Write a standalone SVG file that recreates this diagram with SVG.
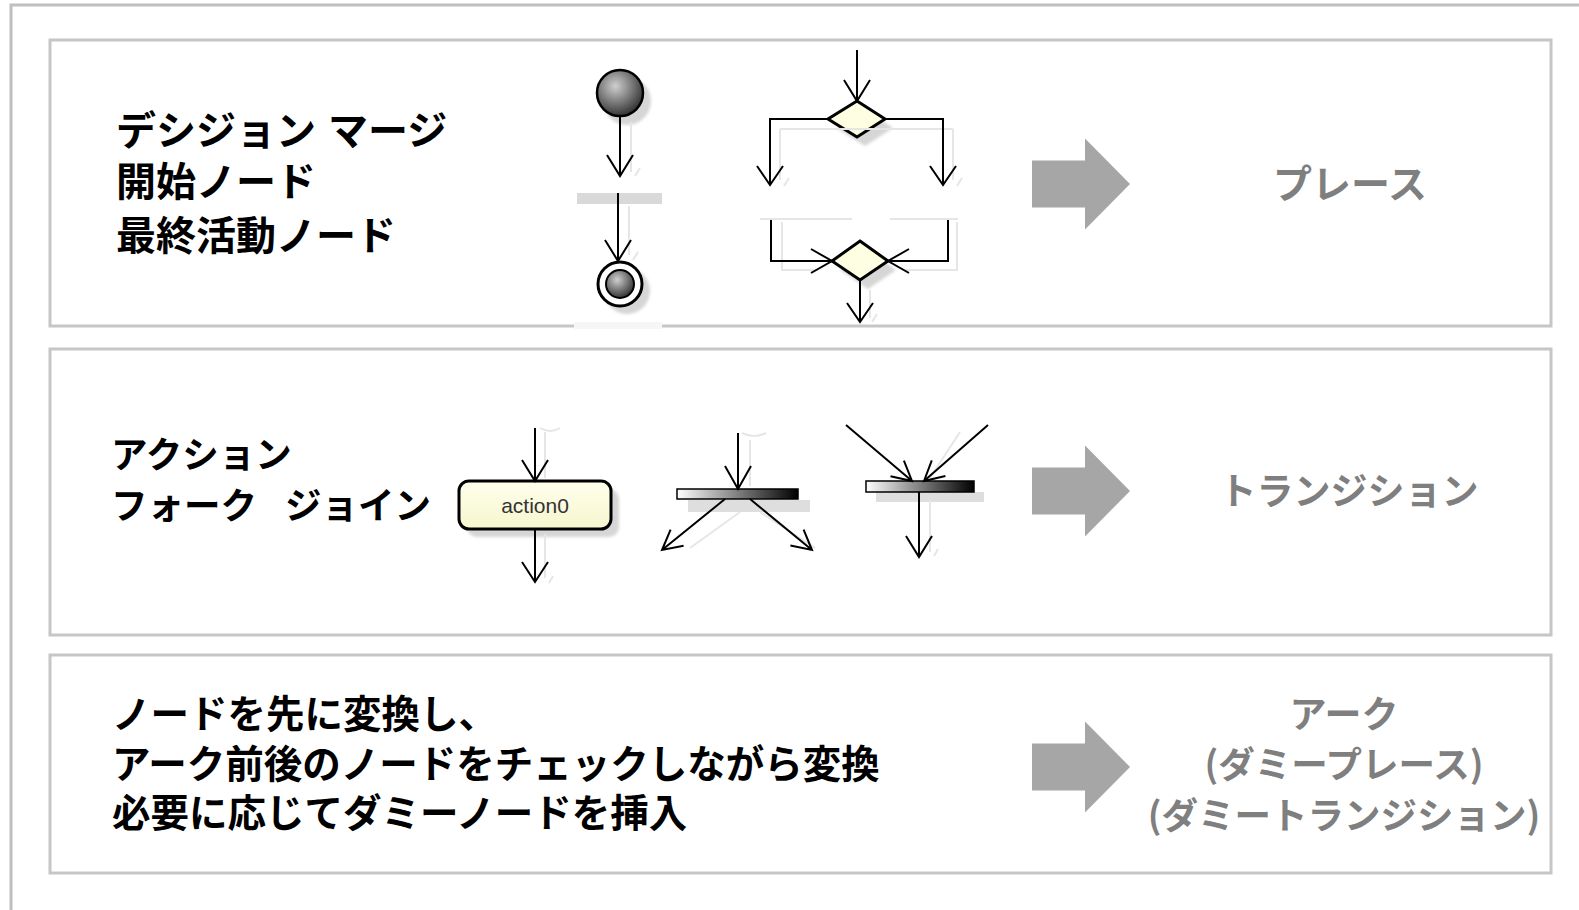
<svg xmlns="http://www.w3.org/2000/svg" width="1579" height="910" viewBox="0 0 1579 910">
<style>
.panel{fill:#fff;stroke:#c6c6c6;stroke-width:3}
.lbl{font-family:"Noto Sans CJK JP","Noto Sans",sans-serif;font-weight:bold;fill:#000}
.res{font-family:"Noto Sans CJK JP","Noto Sans",sans-serif;font-weight:600;fill:#7f7f7f;text-anchor:middle}
.ln{fill:none;stroke:#000;stroke-width:2}
.sh{fill:none;stroke:#e6e6e6;stroke-width:2}
.blk{fill:#a6a6a6}
.shadow{fill:#d6d6d6}
</style>
<defs>
<radialGradient id="ball" cx="0.4" cy="0.35" r="0.7"><stop offset="0" stop-color="#cfcfcf"/><stop offset="1" stop-color="#2a2a2a"/></radialGradient>
<linearGradient id="bar" x1="0" y1="0" x2="1" y2="0"><stop offset="0" stop-color="#ffffff"/><stop offset="1" stop-color="#000000"/></linearGradient>
<linearGradient id="act" x1="0" y1="0" x2="0" y2="1"><stop offset="0" stop-color="#ffffec"/><stop offset="1" stop-color="#f6f6cf"/></linearGradient>
<filter id="blur" x="-20%" y="-20%" width="140%" height="140%"><feGaussianBlur stdDeviation="1.5"/></filter>
<path id="bigarrow" d="M0,-23.5H53V-45.5L98,0L53,45.5V23.5H0Z"/>
</defs>
<rect width="1579" height="910" fill="#fff"/>
<path id="frame" d="M11,910V5H1579" fill="none" stroke="#bfbfbf" stroke-width="3"/>

<g id="panel-1">
<rect class="panel" x="50" y="40" width="1501" height="286"/>
<rect x="574" y="322" width="88" height="7" fill="#f6f6f6"/>
<text class="lbl" font-size="40" x="116" y="145">デシジョン <tspan x="328">マージ</tspan></text>
<text class="lbl" font-size="40" x="116" y="196">開始ノード</text>
<text class="lbl" font-size="40" x="116" y="250">最終活動ノード</text>
<use href="#bigarrow" class="blk" x="1032" y="184"/>
<text class="res" font-size="39" x="1350" y="198">プレース</text>
</g>

<g id="panel-2">
<rect class="panel" x="50" y="349" width="1501" height="286"/>
<text class="lbl" font-size="36.5" x="111" y="468">アクション</text>
<text class="lbl" font-size="36.5" x="111" y="519">フォーク <tspan x="285">ジョイン</tspan></text>
<use href="#bigarrow" class="blk" x="1032" y="491"/>
<text class="res" font-size="37" x="1349" y="505">トランジション</text>
</g>

<g id="panel-3">
<rect class="panel" x="50" y="655" width="1501" height="218"/>
<text class="lbl" font-size="38.5" x="112" y="728">ノードを先に変換し、</text>
<text class="lbl" font-size="38.5" x="112" y="778">アーク前後のノードをチェックしながら変換</text>
<text class="lbl" font-size="38.5" x="112" y="827">必要に応じてダミーノードを挿入</text>
<use href="#bigarrow" class="blk" x="1032" y="767"/>
<text class="res" font-size="37" x="1344" y="728">アーク</text>
<text class="res" font-size="36.5" x="1344" y="778">(ダミープレース)</text>
<text class="res" font-size="36.5" x="1344" y="829">(ダミートランジション)</text>
</g>

<g id="initial-node">
<circle cx="627" cy="101" r="24" class="shadow" filter="url(#blur)"/>
<circle cx="620" cy="93" r="23" fill="url(#ball)" stroke="#000" stroke-width="2.5"/>
</g>
<g id="gray-bar">
<rect x="577" y="193" width="85" height="11" fill="#d9d9d9"/>
</g>
<g id="final-node">
<circle cx="627" cy="291" r="23" class="shadow" filter="url(#blur)"/>
<circle cx="620" cy="284" r="22" fill="#fff" stroke="#000" stroke-width="3"/>
<circle cx="620" cy="284" r="14" fill="url(#ball)" stroke="#000" stroke-width="2"/>
</g>
<g id="decision">
<polygon points="865,110 893,128 865,146 836,128" class="shadow" filter="url(#blur)"/>
<polygon points="857,101 885,119 857,137 828,119" fill="#fefee2" stroke="#000" stroke-width="3"/>
</g>
<g id="merge">
<polygon points="868,250 896,270 868,289 840,270" class="shadow" filter="url(#blur)"/>
<polygon points="860,241 888,261 860,280 832,261" fill="#fefee2" stroke="#000" stroke-width="3"/>
</g>
<g id="action">
<rect x="467" y="489" width="152" height="48" rx="10" class="shadow" filter="url(#blur)"/>
<rect x="459" y="481" width="152" height="48" rx="10" fill="url(#act)" stroke="#000" stroke-width="3"/>
<text x="535" y="513" font-family="Liberation Sans, Arial, sans-serif" font-size="21" fill="#333" text-anchor="middle">action0</text>
</g>
<g id="fork">
<rect x="688" y="500" width="122" height="12" fill="#dedede"/>
<rect x="677" y="489" width="121" height="10" fill="url(#bar)" stroke="#000" stroke-width="1.5"/>
</g>
<g id="join">
<rect x="876" y="492" width="108" height="10" fill="#dedede"/>
<rect x="866" y="481" width="108" height="11" fill="url(#bar)" stroke="#000" stroke-width="1.5"/>
</g>

<g id="connectors">
<path class="sh" d="M631,122V172M635,176l5,-8M629,206V255M633,260l5,-8"/>
<path class="sh" stroke="#ececec" d="M780,129H953M780,129V180M953,129V180M784,186l5,-8M957,186l5,-8"/>
<path class="sh" stroke="#ececec" d="M760,219H852M890,219H958M782,222V270H818M957,222V270H905M870,290V318M872,322l5,-8"/>
<path class="ln" d="M620,116V176M607,155L620,176L633,155"/>
<path class="ln" d="M618,193V261M605,240L618,261L631,240"/>
<path class="ln" d="M857,50V101M844,80L857,101L870,80"/>
<path class="ln" d="M828,119H770V185M757,166L770,185L783,166"/>
<path class="ln" d="M885,119H943V185M930,166L943,185L956,166"/>
<path class="ln" d="M771,220V261H832M811,249L832,261L811,273"/>
<path class="ln" d="M948,220V261H888M909,249L888,261L909,273"/>
<path class="ln" d="M860,280V322M847,303L860,322L873,303"/>

<path class="sh" d="M540,428q10,6 20,0M545,432V478M545,534V578M549,583l4,-7M742,433q12,6 24,0M750,440V486"/>
<path class="sh" d="M740,512L690,548M760,512L815,548M930,500V552M934,556l4,-7M960,432L930,478"/>
<path class="ln" d="M535,428V481M522,460L535,481L548,460"/>
<path class="ln" d="M535,529V582M522,562L535,582L548,562"/>
<path class="ln" d="M738,433V489M725,466L738,489L751,466"/>
<path class="ln" d="M725,499L662,550M683.6,545.8L662,550L670.6,529.7"/>
<path class="ln" d="M750,499L812,550M803.6,529.7L812,550L790.4,545.6"/>
<path class="ln" d="M846,425L912,481M903.9,460.6L912,481L890.5,476.3"/>
<path class="ln" d="M988,425L924,481M945.4,476L924,481L931.8,460.4"/>
<path class="ln" d="M919,492V557M906,536L919,557L932,536"/>
</g>
</svg>
